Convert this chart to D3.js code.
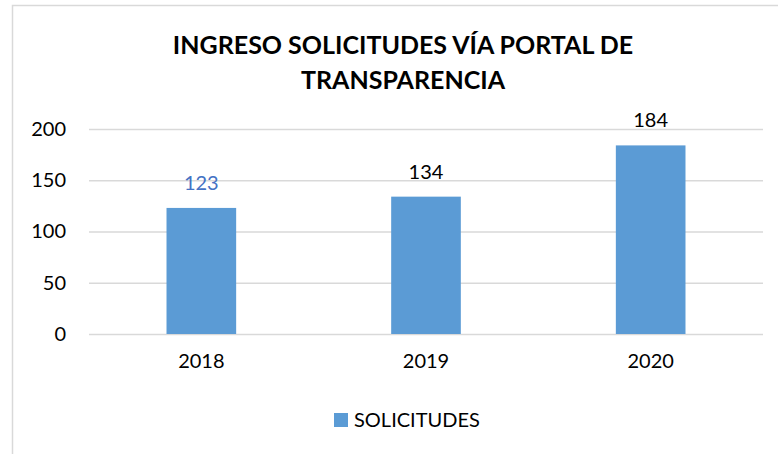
<!DOCTYPE html>
<html>
<head>
<meta charset="utf-8">
<script src="https://cdn.jsdelivr.net/npm/d3@7"></script>
<style>
  html, body { margin: 0; padding: 0; background: #fff; }
  svg { display: block; font-family: Lato, "Open Sans", sans-serif; }
</style>
</head>
<body>
<svg id="chart" width="778" height="454"></svg>
<script>
const years = ["2018", "2019", "2020"];
const solicitudes = [123, 134, 184];
const yTicks = [0, 50, 100, 150, 200];
const titleLines = ["INGRESO SOLICITUDES VÍA PORTAL DE", "TRANSPARENCIA"];
const seriesName = "SOLICITUDES";

const svg = d3.select("#chart");
const W = 778, H = 454;
const margin = { left: 89, right: 15, top: 129, bottom: 120 };
const barColor = "#5b9bd5";
const gridColor = "#d9d9d9";
const fontFamily = "Lato, 'Open Sans', sans-serif";

// outer frame
svg.append("rect")
  .attr("x", 12.5).attr("y", 5.5)
  .attr("width", W + 10).attr("height", H + 10)
  .attr("fill", "#fff").attr("stroke", gridColor).attr("stroke-width", 1.5);

// title
svg.append("text")
  .attr("x", 403).attr("y", 54)
  .attr("text-anchor", "middle")
  .attr("font-size", 25).attr("font-weight", "bold").attr("fill", "#000")
  .selectAll("tspan").data(titleLines).join("tspan")
  .attr("x", 403).attr("dy", (d, i) => i === 0 ? 0 : 35)
  .text(d => d);

const x = d3.scaleBand()
  .domain(years)
  .range([margin.left, W - margin.right])
  .paddingInner(0.69).paddingOuter(0.345);

const y = d3.scaleLinear()
  .domain([0, 200])
  .range([334, 129]);

// gridlines + y labels
const yAxis = svg.append("g")
  .attr("transform", `translate(${margin.left},0)`)
  .call(d3.axisLeft(y).tickValues(yTicks).tickSize(-(W - margin.right - margin.left)).tickPadding(23));
yAxis.select(".domain").remove();
yAxis.selectAll(".tick line").attr("stroke", gridColor).attr("stroke-width", 1.5);
yAxis.selectAll(".tick text")
  .attr("font-size", 20).attr("fill", "#000")
  .attr("font-family", fontFamily);

// bars
svg.append("g").selectAll("rect")
  .data(years.map((yr, i) => ({ yr, v: solicitudes[i] })))
  .join("rect")
  .attr("x", d => x(d.yr))
  .attr("width", x.bandwidth())
  .attr("y", d => y(d.v))
  .attr("height", d => y(0) - y(d.v))
  .attr("fill", barColor);

// value labels
svg.append("g").selectAll("text")
  .data(years.map((yr, i) => ({ yr, v: solicitudes[i] })))
  .join("text")
  .attr("x", d => x(d.yr) + x.bandwidth() / 2)
  .attr("y", d => y(d.v) - 18)
  .attr("text-anchor", "middle")
  .attr("font-size", 20)
  .attr("fill", (d, i) => i === 0 ? "#4472c4" : "#000")
  .text(d => d.v);

// x axis labels
const xAxis = svg.append("g")
  .attr("transform", `translate(0,${y(0)})`)
  .call(d3.axisBottom(x).tickSize(0).tickPadding(20));
xAxis.select(".domain").remove();
xAxis.selectAll(".tick text")
  .attr("font-size", 20).attr("fill", "#000")
  .attr("font-family", fontFamily);

// legend
const legend = svg.append("g").attr("transform", "translate(334,413)");
legend.append("rect").attr("width", 14).attr("height", 14).attr("fill", barColor);
legend.append("text")
  .attr("x", 20).attr("y", 13.5)
  .attr("font-size", 20).attr("fill", "#000")
  .text(seriesName);
</script>
</body>
</html>
